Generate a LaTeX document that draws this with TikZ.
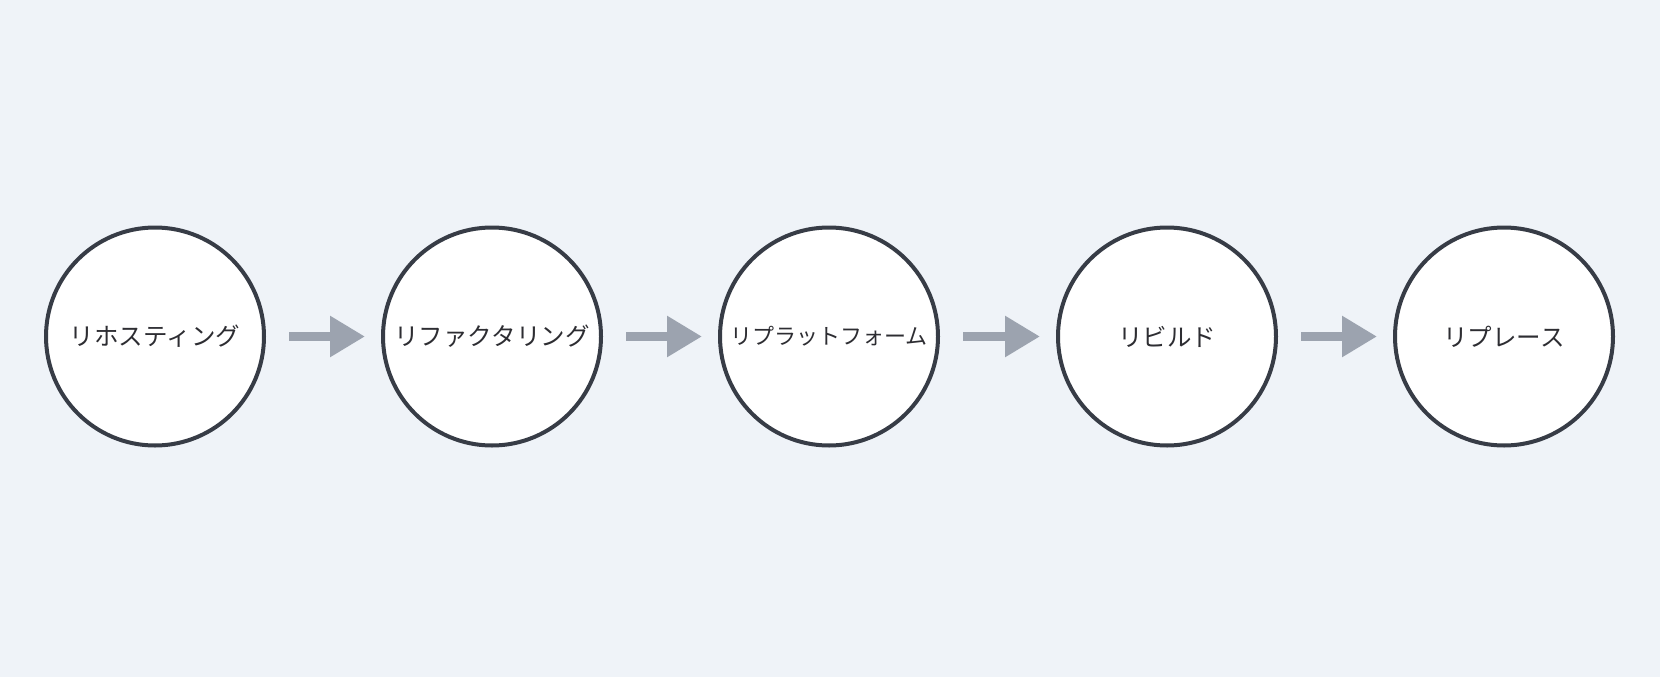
\documentclass[tikz,border=0pt]{standalone}
\usepackage{fontspec}
\setmainfont{Noto Sans CJK JP}
\usetikzlibrary{arrows.meta}
\definecolor{bggray}{RGB}{239, 243, 248}
\definecolor{ringdark}{RGB}{55, 60, 70}
\definecolor{arrowgray}{RGB}{156, 163, 175}
\definecolor{textdark}{RGB}{45, 45, 50}

\begin{document}
\begin{tikzpicture}[x=0.5pt, y=0.5pt]
    \tikzstyle{stage} = [circle, minimum size=109pt, inner sep=0pt,
                         draw=ringdark, line width=2pt, fill=white,
                         text=textdark, font=\fontsize{12.25pt}{14pt}\selectfont]
    \tikzstyle{arr} = [-{Triangle[length=17.5pt, width=19.5pt]}, line width=4.8pt,
                       color=arrowgray, shorten <=11.5pt, shorten >=8pt]

    %% Background / canvas
    \fill[bggray] (0,0) rectangle (1660,677);
    \useasboundingbox (0,0) rectangle (1660,677);

    %% Stages, left to right
    \node[stage] at (155,340.5)  (rehost)     {リホスティング};
    \node[stage] at (492,340.5)  (refactor)   {リファクタリング};
    \node[stage, font=\fontsize{11pt}{13pt}\selectfont]
                 at (829,340.5)  (replatform) {リプラットフォーム};
    \node[stage] at (1167,340.5) (rebuild)    {リビルド};
    \node[stage] at (1504,340.5) (replace)    {リプレース};

    %% ── Arrows between stages ──────────────────────────────────────────
    \draw[arr] (rehost)     -- (refactor);
    \draw[arr] (refactor)   -- (replatform);
    \draw[arr] (replatform) -- (rebuild);
    \draw[arr] (rebuild)    -- (replace);
\end{tikzpicture}
\end{document}
